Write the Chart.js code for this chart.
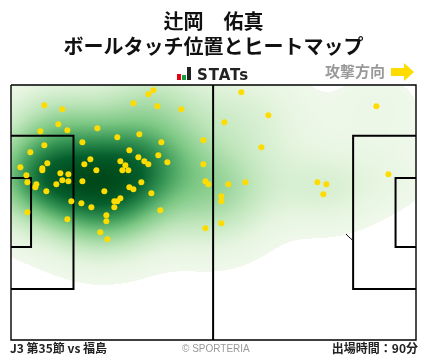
<!DOCTYPE html>
<html lang="ja">
<head>
<meta charset="utf-8">
<title>ボールタッチ位置とヒートマップ</title>
<script src="https://cdn.jsdelivr.net/npm/chart.js@4"></script>
<style>
  html, body { margin: 0; padding: 0; background: #fff; }
  #wrap { position: relative; width: 428px; height: 359px; overflow: hidden; font-family: "Noto Sans CJK JP", sans-serif; }
  canvas { position: absolute; left: 0; top: 0; }
  .txt { position: absolute; white-space: nowrap; line-height: 1; }
  #logoBars span { position: absolute; bottom: 0; width: 4px; }
</style>
</head>
<body>
<div id="wrap">
  <canvas id="chart" width="428" height="359"></canvas>
  <div id="logoBars" style="position:absolute;left:177px;top:67px;width:14px;height:13px">
    <span style="left:0;height:6px;background:#e60012"></span>
    <span style="left:5px;height:5px;background:#12a03c;width:4px"></span>
    <span style="left:10px;height:13px;background:#222"></span>
  </div>
  <div class="txt" style="left:197px;top:66px;font:bold 15px 'DejaVu Sans';letter-spacing:.9px;color:#222">STATs</div>
  <div class="txt" style="left:325px;top:63px;font-size:15px;font-weight:700;color:#999">攻撃方向</div>
  <svg style="position:absolute;left:391px;top:63px" width="24" height="18"><polygon points="0,5 13,5 13,0 23,9 13,18 13,13 0,13" fill="#ffdc00"/></svg>
  <div class="txt" style="left:10px;top:342px;font-size:12px;font-weight:700;color:#222">J3 第35節 vs 福島</div>
  <div class="txt" style="left:182px;top:343px;font:10px 'Liberation Sans';color:#999">© SPORTERIA</div>
  <div class="txt" style="right:10px;top:342px;font-size:12px;font-weight:700;color:#222">出場時間：90分</div>
</div>
<script>
// ボールタッチ位置 (pitch metres, 105 x 68)
const touchX = [8.64,13.31,35.61,36.91,31.72,37.94,44.17,12.27,14.61,7.61,22.39,33.28,27.57,38.98,49.87,18.5,8.64,5.01,30.68,33.02,38.2,20.57,28.35,34.57,35.61,40.54,49.87,9.42,19.01,29.65,2.42,8.12,8.12,22.13,28.87,30.42,12.79,14.87,3.98,13.31,14.87,18.5,4.24,6.57,6.31,11.75,33.79,50.39,51.17,30.68,31.72,9.16,24.2,36.39,28.35,27.57,26.79,15.64,18.24,20.83,26.79,38.72,4.24,24.72,14.61,24.72,23.16,24.98,50.39,59.72,94.73,66.72,55.32,64.91,97.84,56.35,60.76,79.43,81.76,80.98,54.54,54.54,54.54];
const touchY = [5.42,6.49,2.49,1.42,4.89,5.69,6.49,10.49,12.09,12.36,11.56,13.16,13.96,15.29,14.76,15.29,16.09,17.96,17.42,19.29,18.76,19.82,20.36,20.36,21.16,20.62,21.16,20.89,21.16,21.42,21.96,22.22,22.76,22.76,22.76,22.76,23.56,23.82,24.09,25.42,25.69,25.69,25.96,26.49,27.29,26.49,25.96,25.69,26.49,27.29,27.82,28.36,28.36,28.89,30.22,31.02,31.02,31.02,31.56,32.62,32.62,33.42,33.96,34.76,35.82,36.36,39.29,41.16,38.22,1.96,5.69,8.09,9.96,16.62,23.82,26.49,25.96,25.96,26.49,29.16,29.69,31.02,36.89];

// ピッチのライン
const borderX = [0,105,105,0,0];
const borderY = [0,0,68,68,0];
const halfwayX = [52.4,52.4];
const halfwayY = [0,68];
const leftBoxX = [0,16.2,16.2,0];
const leftBoxY = [13.5,13.5,54.4,54.4];
const leftGoalX = [0,5.2,5.2,0];
const leftGoalY = [24.8,24.8,43.2,43.2];
const rightBoxX = [105,88.7,88.7,105];
const rightBoxY = [13.5,13.5,54.4,54.4];
const rightGoalX = [105,99.7,99.7,105];
const rightGoalY = [24.8,24.8,43.2,43.2];
const rightArcX = [88.5,87.56,86.69,85.77,85.07,84.85,85.07,85.77,86.69,87.56,88.5];
const rightArcY = [26.7,27.5,28.5,30,32,34,36,38,39.5,40.5,41.3];

const zip = (xs, ys) => xs.map((x, i) => ({ x: x, y: ys[i] }));

const lineSet = (xs, ys, width) => ({
    type: 'line',
    data: zip(xs, ys),
    borderColor: '#000',
    borderWidth: width,
    pointRadius: 0,
    fill: false,
    clip: false,
    borderJoinStyle: 'miter',
    order: 2
});

// ヒートマップの色
const rampStops = [
    [0.00, 243, 250, 239],
    [0.10, 228, 244, 222],
    [0.25, 190, 229, 186],
    [0.45, 125, 200, 132],
    [0.65, 55, 150, 85],
    [0.85, 5, 95, 45],
    [1.00, 0, 72, 25]
];
const bandX = 9;
const bandY = 7;
const cutoff = 0.025;

const rampColor = (t) => {
    for (let i = 1; i < rampStops.length; i++) {
        if (t <= rampStops[i][0]) {
            const a = rampStops[i - 1], b = rampStops[i];
            const f = (t - a[0]) / (b[0] - a[0]);
            return [1, 2, 3].map(k => a[k] + (b[k] - a[k]) * f);
        }
    }
    return rampStops[rampStops.length - 1].slice(1);
};

// アークの上にヒートマップを重ねる
const heatPlugin = {
    id: 'heat',
    afterDatasetDraw(chart, args) {
        if (args.index !== 0) return;
        const area = chart.chartArea;
        const w = Math.round(area.right - area.left);
        const h = Math.round(area.bottom - area.top);
        const off = document.createElement('canvas');
        off.width = w;
        off.height = h;
        const octx = off.getContext('2d');
        const img = octx.createImageData(w, h);
        const dens = new Float32Array(w * h);
        let peak = 0;
        for (let j = 0; j < h; j++) {
            const vy = chart.scales.y.getValueForPixel(area.top + j);
            for (let i = 0; i < w; i++) {
                const vx = chart.scales.x.getValueForPixel(area.left + i);
                let d = 0;
                for (let k = 0; k < touchX.length; k++) {
                    const dx = (vx - touchX[k]) / bandX;
                    const dy = (vy - touchY[k]) / bandY;
                    d += Math.exp(-0.5 * (dx * dx + dy * dy));
                }
                dens[j * w + i] = d;
                if (d > peak) peak = d;
            }
        }
        for (let p = 0; p < dens.length; p++) {
            const t = dens[p] / peak;
            if (t < cutoff) continue;
            const c = rampColor(t);
            img.data[p * 4] = c[0];
            img.data[p * 4 + 1] = c[1];
            img.data[p * 4 + 2] = c[2];
            img.data[p * 4 + 3] = 255;
        }
        octx.putImageData(img, 0, 0);
        chart.ctx.drawImage(off, area.left, area.top);
    }
};

new Chart(document.getElementById('chart'), {
    data: {
        datasets: [
            { ...lineSet(rightArcX, rightArcY, 1), tension: 0.3, order: 3 },
            { ...lineSet(borderX, borderY, 1.4) },
            { ...lineSet(halfwayX, halfwayY, 2) },
            { ...lineSet(leftBoxX, leftBoxY, 2) },
            { ...lineSet(leftGoalX, leftGoalY, 2) },
            { ...lineSet(rightBoxX, rightBoxY, 2) },
            { ...lineSet(rightGoalX, rightGoalY, 2) },
            {
                type: 'scatter',
                data: zip(touchX, touchY),
                backgroundColor: '#ffdc00',
                borderWidth: 0,
                pointRadius: 3,
                order: 1
            }
        ]
    },
    options: {
        responsive: false,
        animation: false,
        layout: { padding: { left: 11, right: 12, top: 0, bottom: 19 } },
        scales: {
            x: { type: 'linear', min: 0, max: 105, display: false },
            y: { type: 'linear', min: 0, max: 68, reverse: true, display: false }
        },
        plugins: {
            legend: { display: false },
            tooltip: { enabled: false },
            title: {
                display: true,
                text: ['辻岡　佑真', 'ボールタッチ位置とヒートマップ'],
                color: '#111',
                font: { family: '"Noto Sans CJK JP"', size: 20, weight: 'bold', lineHeight: 1.25 },
                padding: { top: 9, bottom: 26 }
            }
        }
    },
    plugins: [heatPlugin]
});
</script>
</body>
</html>
